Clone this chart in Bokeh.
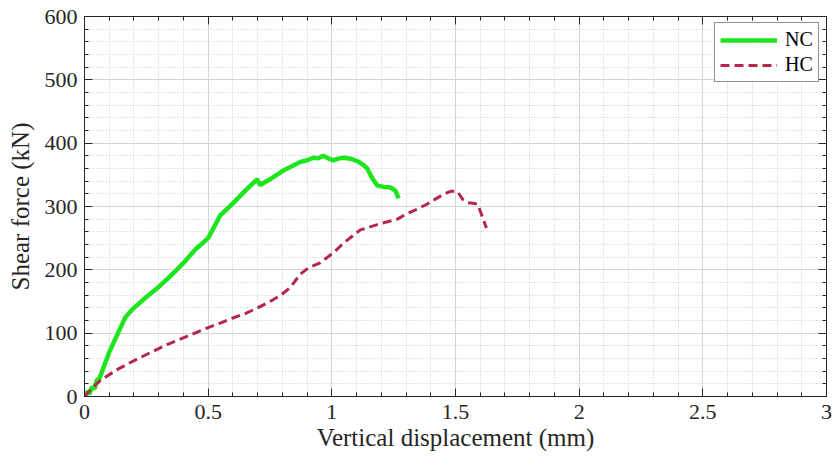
from bokeh.plotting import figure
from bokeh.models import LinearAxis, FixedTicker, Legend, LegendItem, Range1d
from bokeh.embed import file_html
from bokeh.resources import INLINE

# ---- data ----
nc_x = [0, 0.01, 0.02, 0.03, 0.04, 0.05, 0.06, 0.1, 0.165, 0.2, 0.25, 0.3, 0.333, 0.36,
        0.41, 0.45, 0.5, 0.549, 0.6, 0.65, 0.698, 0.71, 0.75, 0.8, 0.87, 0.9, 0.925,
        0.945, 0.965, 0.985, 1.006, 1.03, 1.05, 1.08, 1.107, 1.13, 1.143, 1.163, 1.184,
        1.21, 1.237, 1.257, 1.27]
nc_y = [0, 8, 4, 15, 12, 26, 28, 70, 125, 140, 157, 173, 185, 195,
        215, 233, 250, 286, 305, 325, 343, 334, 343, 356, 370, 373, 377,
        376, 380, 376, 373, 376, 377, 375, 371, 365, 360, 345, 333,
        331, 330, 325, 313]

hc_x = [0, 0.03, 0.063, 0.13, 0.197, 0.27, 0.334, 0.414, 0.495, 0.549, 0.6, 0.65, 0.70,
        0.75, 0.79, 0.832, 0.872, 0.905, 0.953, 1.006, 1.05, 1.115, 1.196, 1.265, 1.30,
        1.33, 1.386, 1.42, 1.45, 1.48, 1.507, 1.53, 1.55, 1.57, 1.59, 1.61, 1.625]
hc_y = [0, 13, 25, 42, 56, 70, 82, 95, 108, 116, 124, 131, 140,
        150, 159, 172, 193, 203, 211, 227, 243, 263, 273, 280, 288,
        293, 304, 312, 319, 324, 324, 311, 306, 305, 304, 282, 266]

x_ticks = [0, 0.5, 1, 1.5, 2, 2.5, 3]
x_tick_labels = ["0", "0.5", "1", "1.5", "2", "2.5", "3"]
x_minor = [i / 10 for i in range(31)]
y_ticks = [0, 100, 200, 300, 400, 500, 600]
y_tick_labels = ["0", "100", "200", "300", "400", "500", "600"]
y_minor = [i * 20 for i in range(31)]

series_names = ["NC", "HC"]

FONT = "Liberation Serif"
DARK = "#262626"

p = figure(width=834, height=461, output_backend="svg", toolbar_location=None,
           x_range=Range1d(0, 3), y_range=Range1d(0, 600),
           min_border_left=84, min_border_right=8, min_border_top=16, min_border_bottom=65)
p.background_fill_color = "white"
p.border_fill_color = "white"
p.outline_line_color = DARK
p.outline_line_width = 1


def style_axis(ax, ticks, minor, labels, show_labels=True):
    ax.ticker = FixedTicker(ticks=ticks, minor_ticks=minor)
    if show_labels:
        ax.major_label_overrides = {t: l for t, l in zip(ticks, labels)}
    else:
        ax.major_label_overrides = {t: "" for t in ticks}
        ax.major_label_standoff = 0
    ax.axis_line_color = DARK
    ax.major_tick_line_color = DARK
    ax.minor_tick_line_color = DARK
    ax.major_tick_line_width = 1
    ax.minor_tick_line_width = 1
    ax.major_tick_in = 8
    ax.major_tick_out = 0
    ax.minor_tick_in = 4
    ax.minor_tick_out = 0
    ax.major_label_text_font = FONT
    ax.major_label_text_color = DARK
    ax.major_label_text_font_size = "22px"


style_axis(p.xaxis[0], x_ticks, x_minor, x_tick_labels)
style_axis(p.yaxis[0], y_ticks, y_minor, y_tick_labels)
p.xaxis[0].major_label_standoff = 8
p.yaxis[0].major_label_standoff = 7
p.xaxis[0].axis_label = "Vertical displacement (mm)"
p.yaxis[0].axis_label = "Shear force (kN)"
for ax in (p.xaxis[0], p.yaxis[0]):
    ax.axis_label_text_font = FONT
    ax.axis_label_text_font_style = "normal"
    ax.axis_label_text_font_size = "25px"
    ax.axis_label_text_color = DARK
p.xaxis[0].axis_label_standoff = 2
p.yaxis[0].axis_label_standoff = 8

top = LinearAxis()
style_axis(top, x_ticks, x_minor, x_tick_labels, show_labels=False)
p.add_layout(top, "above")
right = LinearAxis()
style_axis(right, y_ticks, y_minor, y_tick_labels, show_labels=False)
p.add_layout(right, "right")

p.xgrid.ticker = FixedTicker(ticks=x_ticks, minor_ticks=x_minor)
p.ygrid.ticker = FixedTicker(ticks=y_ticks, minor_ticks=y_minor)
for g in (p.xgrid[0], p.ygrid[0]):
    g.grid_line_color = "#d4d4d4"
    g.grid_line_width = 1
    g.minor_grid_line_color = "#c8c8c8"
    g.minor_grid_line_dash = "1 2"
    g.minor_grid_line_width = 1

r_nc = p.line(nc_x, nc_y, line_color="#1ee61e", line_width=4.5)
r_hc = p.line(hc_x, hc_y, line_color="#b3284a", line_width=3, line_dash="9 5")

legend = Legend(items=[LegendItem(label=series_names[0], renderers=[r_nc]),
                       LegendItem(label=series_names[1], renderers=[r_hc])],
                location=(630, 314))
legend.label_text_font = FONT
legend.label_text_font_size = "20px"
legend.label_text_color = "#000000"
legend.border_line_color = DARK
legend.border_line_width = 1
legend.padding = 5
legend.spacing = 2
legend.glyph_width = 57
legend.glyph_height = 20
legend.label_height = 20
legend.label_standoff = 8
legend.margin = 0
legend.background_fill_color = "white"
p.add_layout(legend, "center")

open("out.html", "w").write(file_html(p, INLINE))
